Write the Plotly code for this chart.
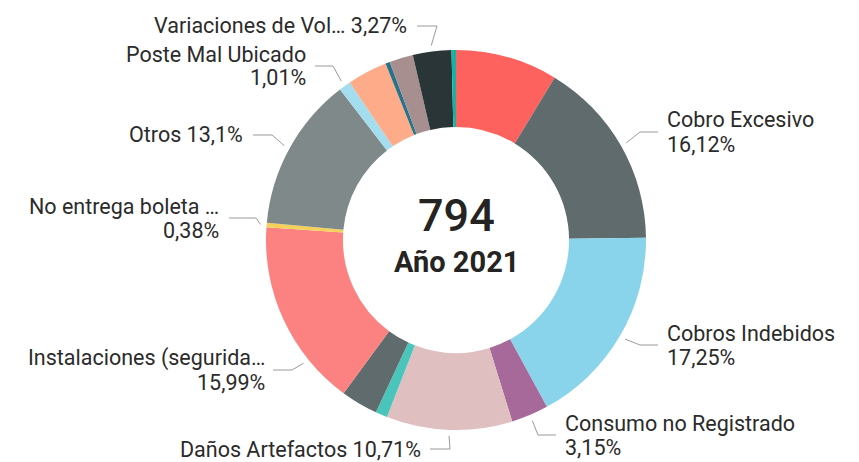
import math
import plotly.graph_objects as go

# ---- data ----
categories = [
    "Alumbrado Público", "Cobro Excesivo", "Cobros Indebidos", "Consumo no Registrado",
    "Daños Artefactos", "Error de Lectura", "Falta de Suministro",
    "Instalaciones (segurida…", "No entrega boleta …", "Otros", "Poste Mal Ubicado",
    "Reclamo Medidor", "Reposición de Servicio", "Suspensión de Servicio",
    "Variaciones de Vol…", "Voltaje Inadecuado",
]
values = [69, 128, 137, 25, 85, 8, 25, 127, 3, 104, 8, 27, 3, 16, 26, 3]
colors = [
    "#FD625E", "#5F6B6D", "#8AD4EB", "#A66999", "#DFBFBF", "#4AC5BB", "#5F6B6D",
    "#FB8281", "#F4D25A", "#7F898A", "#A4DDEE", "#FDAB89", "#28738A", "#A78F8F",
    "#293537", "#12B5A5",
]
center_value = "794"
center_label = "Año 2021"

# ---- label layout (pixel positions of outside labels) ----
# name, side, text x, text y, leader start x, elbow x, two-line?, anchor angle nudge
label_layout = [
    ("Variaciones de Vol…", "left", 409, 26, 417, 437, False, 0),
    ("Poste Mal Ubicado", "left", 308, 66, 315, 333, True, 0),
    ("Otros", "left", 245, 135, 253, 272, False, 0),
    ("No entrega boleta …", "left", 221, 218, 229, 256, True, 0),
    ("Instalaciones (segurida…", "left", 267, 370, 273, 292, True, -14),
    ("Daños Artefactos", "left", 423, 449, 430, 450, False, 0),
    ("Consumo no Registrado", "right", 563, 435, 556, 538, True, 0),
    ("Cobros Indebidos", "right", 665, 345, 658, 640, True, 0),
    ("Cobro Excesivo", "right", 665, 132, 658, 640, True, 0),
]
LINE_GAP = 24

W, H = 859, 462
CX, CY, R = 456, 240, 190
FONT = "Roboto"
TXT = "#2b2b2b"
FS = 21.5

total = sum(values)


def px(x, y):
    return x / W, 1 - y / H


def fmt_pct(v):
    s = f"{v / total * 100:.2f}".rstrip("0").rstrip(".")
    return s.replace(".", ",") + "%"


fig = go.Figure(
    go.Pie(
        labels=categories,
        values=values,
        hole=0.595,
        sort=False,
        direction="clockwise",
        rotation=0,
        marker=dict(colors=colors, line=dict(width=0)),
        textinfo="none",
        hoverinfo="label+value+percent",
        showlegend=False,
        domain=dict(x=[(CX - R) / W, (CX + R) / W], y=[1 - (CY + R) / H, 1 - (CY - R) / H]),
    )
)

# mid angles of each slice
cum = 0
mid = {}
for c, v in zip(categories, values):
    mid[c] = (cum + v / 2) / total * 360
    cum += v

annotations = []
shapes = []


def add_text(text, tx, ty, side):
    x, y = px(tx, ty)
    annotations.append(dict(
        x=x, y=y, xref="paper", yref="paper", text=text, showarrow=False,
        xanchor="right" if side == "left" else "left", yanchor="middle",
        align="right" if side == "left" else "left",
        font=dict(family=FONT, size=FS, color=TXT),
    ))


for name, side, tx, ty, sx, ex, two, nudge in label_layout:
    v = values[categories.index(name)]
    if two:
        add_text(name, tx, ty - LINE_GAP / 2, side)
        add_text(fmt_pct(v), tx, ty + LINE_GAP / 2, side)
    else:
        add_text(name + " " + fmt_pct(v), tx, ty, side)
    th = math.radians(mid[name] + nudge)
    ax = CX + (R + 6) * math.sin(th)
    ay = CY - (R + 6) * math.cos(th)
    x0, y0 = px(sx, ty)
    x1, y1 = px(ex, ty)
    x2, y2 = px(ax, ay)
    shapes.append(dict(
        type="path", xref="paper", yref="paper",
        path=f"M {x0} {y0} L {x1} {y1} L {x2} {y2}",
        line=dict(color="#9a9a9a", width=1),
    ))

x, y = px(CX, 216)
annotations.append(dict(x=x, y=y, xref="paper", yref="paper", text=center_value,
                        showarrow=False, xanchor="center", yanchor="middle",
                        font=dict(family=FONT, size=45, color="#252423", weight=500)))
x, y = px(CX, 262)
annotations.append(dict(x=x, y=y, xref="paper", yref="paper", text=f"<b>{center_label}</b>",
                        showarrow=False, xanchor="center", yanchor="middle",
                        font=dict(family=FONT, size=29, color="#252423")))

fig.update_layout(
    width=W, height=H,
    margin=dict(l=0, r=0, t=0, b=0),
    paper_bgcolor="white", plot_bgcolor="white",
    annotations=annotations, shapes=shapes,
)

fig.write_html(
    "out.html",
    config={"displayModeBar": False},
    post_script="document.body.style.margin='0';document.body.style.padding='0';",
)
